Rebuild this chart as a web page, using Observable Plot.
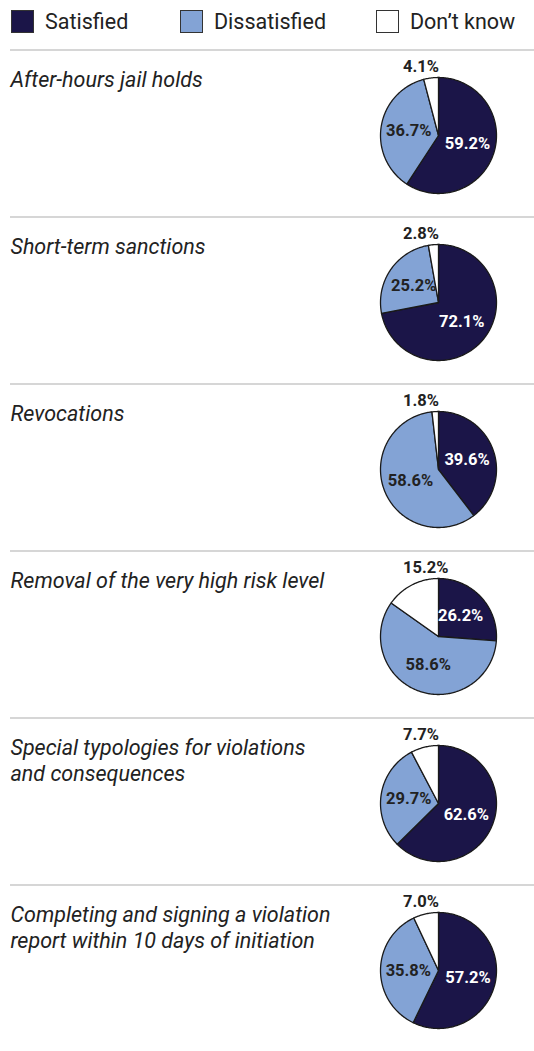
<!DOCTYPE html>
<html>
<head>
<meta charset="utf-8">
<script src="https://cdn.jsdelivr.net/npm/d3@7"></script>
<script src="https://cdn.jsdelivr.net/npm/@observablehq/plot@0.6"></script>
<style>
  html, body { margin: 0; padding: 0; background: #fff; }
  body { width: 534px; font-family: Roboto, "Noto Sans", sans-serif; color: #222; }
  #legend { height: 49px; position: relative; }
  .item { position: absolute; top: 10px; display: flex; align-items: center; height: 23px; }
  .sw { width: 21px; height: 21px; border: 1px solid #333; box-sizing: content-box; margin-right: 11px; }
  .lab { font-size: 21.5px; line-height: 23px; color: #222; }
  .row { margin-left: 10px; border-top: 2px solid #d6d6d6; height: 165px; width: 524px; }
  .row svg { display: block; margin-left: -10px; max-width: none !important; width: 534px; }
</style>
</head>
<body>
<div id="legend"></div>
<div id="rows"></div>
<script>
// ---- data ----
const categories = ["Satisfied", "Dissatisfied", "Don\u2019t know"];
const colors = ["#1b1548", "#83a3d5", "#ffffff"];
const questions = [
  "After-hours jail holds",
  "Short-term sanctions",
  "Revocations",
  "Removal of the very high risk level",
  "Special typologies for violations\nand consequences",
  "Completing and signing a violation\nreport within 10 days of initiation"
];
const satisfied    = [59.2, 72.1, 39.6, 26.2, 62.6, 57.2];
const dissatisfied = [36.7, 25.2, 58.6, 58.6, 29.7, 35.8];
const dontKnow     = [4.1, 2.8, 1.8, 15.2, 7.7, 7.0];

// ---- legend ----
const legend = document.getElementById("legend");
const legendX = [11, 180, 376];
categories.forEach((c, i) => {
  const it = document.createElement("div");
  it.className = "item";
  it.style.left = legendX[i] + "px";
  const sw = document.createElement("div");
  sw.className = "sw";
  sw.style.background = colors[i];
  const lb = document.createElement("span");
  lb.className = "lab";
  lb.textContent = c;
  it.appendChild(sw); it.appendChild(lb);
  legend.appendChild(it);
});

// ---- rows ----
const rowsEl = document.getElementById("rows");
const R = 58, CX = 438, CY = 84, H = 165;
const TAU = Math.PI * 2;

questions.forEach((q, i) => {
  const vals = [satisfied[i], dissatisfied[i], dontKnow[i]];
  const total = d3.sum(vals);
  let acc = 0;
  const pts = [];
  const labels = [];
  vals.forEach((v, k) => {
    const a0 = acc / total * TAU;
    acc += v;
    const a1 = acc / total * TAU;
    const c = categories[k];
    pts.push({c, x: 0, y: 0});
    const n = Math.max(2, Math.ceil((a1 - a0) / (Math.PI / 180)));
    for (let j = 0; j <= n; j++) {
      const a = a0 + (a1 - a0) * j / n;
      pts.push({c, x: Math.sin(a), y: Math.cos(a)});
    }
    pts.push({c, x: 0, y: 0});
    const m = (a0 + a1) / 2;
    labels.push({c, k, text: v.toFixed(1) + "%", x: 0.52 * Math.sin(m), y: 0.52 * Math.cos(m)});
  });
  const inside = labels.filter(d => d.k < 2);
  const outside = labels.filter(d => d.k === 2);

  const chart = Plot.plot({
    width: 534,
    height: H,
    marginLeft: 10, marginRight: 0, marginTop: 0, marginBottom: 0,
    x: {domain: [-1, 1], range: [CX - R, CX + R], axis: null},
    y: {domain: [-1, 1], range: [CY + R, CY - R], axis: null},
    color: {domain: categories, range: colors},
    style: {fontFamily: "Roboto, sans-serif", background: "transparent", color: "#222", overflow: "visible"},
    marks: [
      Plot.text([q], {
        text: d => d, frameAnchor: "top-left", lineAnchor: "top", dy: 17,
        fontSize: 21.5, fontStyle: "italic", fill: "#222", lineHeight: 1.2
      }),
      Plot.line(pts, {
        x: "x", y: "y", z: "c", fill: "c", stroke: "#1a1a1a",
        strokeWidth: 1.3, strokeLinejoin: "round", curve: "linear"
      }),
      Plot.text(inside.filter(d => d.k === 0), {
        x: "x", y: "y", text: "text", fill: "#ffffff",
        fontSize: 16.5, fontWeight: "bold", textAnchor: "middle"
      }),
      Plot.text(inside.filter(d => d.k === 1), {
        x: "x", y: "y", text: "text", fill: "#222",
        fontSize: 16.5, fontWeight: "bold", textAnchor: "middle"
      }),
      Plot.text(outside, {
        x: () => -0.61, y: () => 1.09, text: "text", fill: "#222",
        fontSize: 16.5, fontWeight: "bold", textAnchor: "start", lineAnchor: "bottom"
      })
    ]
  });
  const row = document.createElement("div");
  row.className = "row";
  row.appendChild(chart);
  rowsEl.appendChild(row);
});
</script>
</body>
</html>
